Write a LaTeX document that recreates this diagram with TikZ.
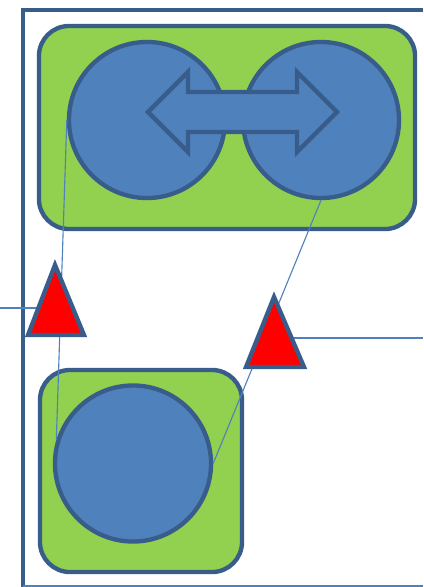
\documentclass[tikz,border=0pt]{standalone}
\usepackage{tikz}

\definecolor{leaf}{HTML}{92D050}
\definecolor{sky}{HTML}{4F81BD}
\definecolor{navy}{HTML}{385D8A}

\tikzset{
  box/.style={draw=navy, line width=3.1pt, fill=leaf, rounded corners=0.75cm},
  blob/.style={circle, draw=navy, line width=3.1pt, fill=sky, minimum size=3.9cm, inner sep=0pt},
  link/.style={draw=sky, line width=0.8pt},
  warn/.style={draw=navy, line width=3.1pt, fill=red},
  frame/.style={draw=navy, line width=3.4pt}
}

\begin{document}
\begin{tikzpicture}[x=0.025cm, y=-0.025cm]

\useasboundingbox (0,0) rectangle (423,587);

\draw[frame] (423,10) -- (23,10) -- (23,587);
\draw[link] (23,586) -- (423,586);

\node[box, minimum width=9.4cm, minimum height=5.075cm] (top) at (227,127.5) {};
\node[box, minimum width=5.05cm, minimum height=5.05cm] (bottom) at (141,471) {};

\node[blob] (lc) at (147,120) {};
\node[blob] (rc) at (321,120) {};
\node[blob] (bc) at (133,463.5) {};

\draw[warn, fill=sky] (148,112) -- (188,72) -- (188,92) -- (297,92) -- (297,72)
  -- (337,112) -- (297,152) -- (297,132) -- (188,132) -- (188,152) -- cycle;

\coordinate (lin) at (0,308);
\coordinate (rout) at (423,338);
\coordinate (lt) at (56,308);
\coordinate (rt) at (275,338);

\draw[link] (lc.west) -- (bc.163);
\draw[link] (rc.south) -- (bc.east);
\draw[link] (lin) -- (lt);
\draw[link] (rt) -- (rout);

\draw[warn] (55,265) -- (84,335) -- (28,335) -- cycle;
\draw[warn] (274,297) -- (304,367) -- (246,367) -- cycle;

\end{tikzpicture}
\end{document}
